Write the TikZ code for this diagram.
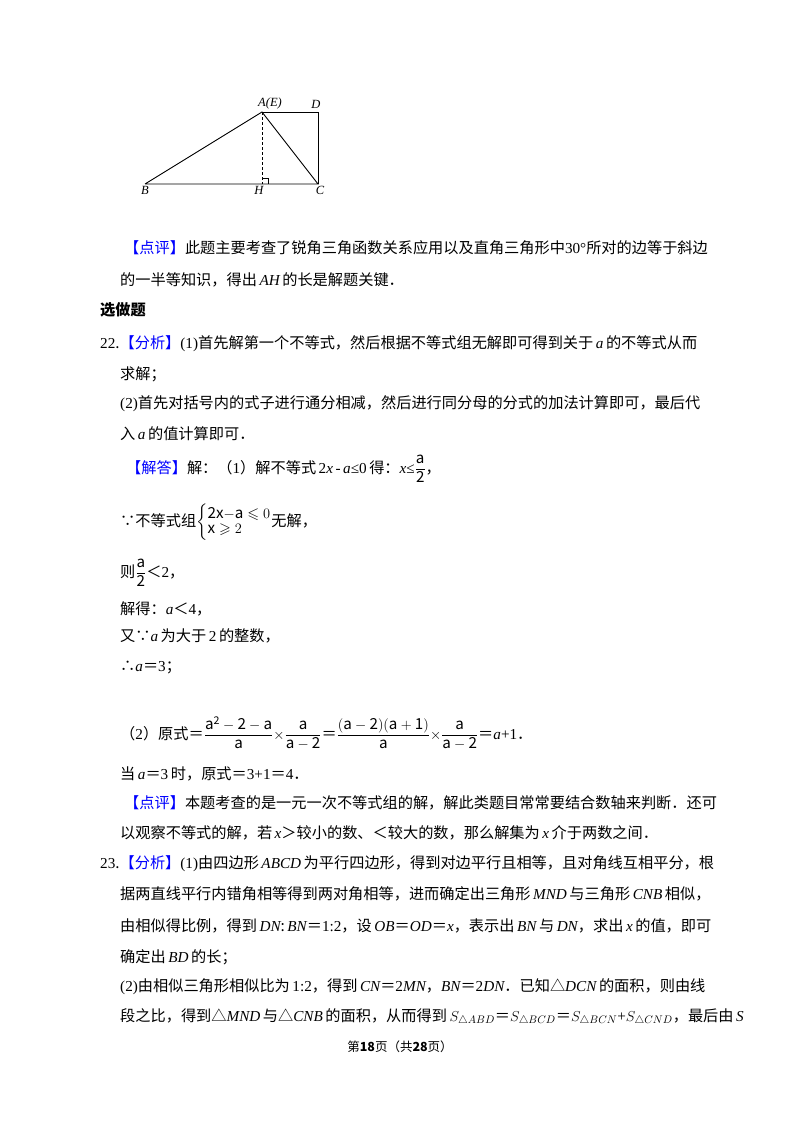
\documentclass[tikz,border=0pt]{standalone}
\usepackage{amssymb}
\usepackage{fontspec}
\usetikzlibrary{calc}
\setmainfont{Noto Sans CJK SC}
\newfontfamily\tm{Liberation Serif}
\newcommand{\I}[1]{{\tm\itshape #1}}
\newcommand{\R}[1]{{\tm #1}}
\newcommand{\B}[1]{\textcolor{blue}{#1}}
\newcommand{\fr}[2]{$\displaystyle\frac{\mathrm{#1}}{\mathrm{#2}}$}
\begin{document}
\begin{tikzpicture}[x=1pt,y=-1pt,
  ln/.style={anchor=base west,inner sep=0pt,font=\fontsize{15.2}{15.2}\selectfont},
  lb/.style={font=\tm\itshape\fontsize{12.5}{12.5}\selectfont,inner sep=1pt},
  seg/.style={line width=0.9pt}]
\useasboundingbox (0,0) rectangle (800,1132);
\fill[white] (0,0) rectangle (800,1132);
% figure
\coordinate (B) at (145,184);
\coordinate (H) at (262,184);
\coordinate (C) at (318,184);
\coordinate (A) at (262,112);
\coordinate (D) at (318,112);
\draw[seg] (B) -- (A) -- (C) -- (B);
\draw[seg] (A) -- (D) -- (C);
\draw[densely dashed,line width=0.7pt] (A) -- (H);
\draw[line width=0.5pt] ($(H)+(0,-6)$) -- ++(6,0) -- ++(0,6);
\node[lb,anchor=south] (lA) at (270,110) {A(E)};
\node[lb,anchor=south] (lD) at (316,110) {D};
\node[lb,anchor=north] (lB) at (145,185) {B};
\node[lb,anchor=north] (lH) at (259,185) {H};
\node[lb,anchor=north] (lC) at (320,185) {C};
% text
\node[ln] (t1) at (124,253) {\B{【点评】}此题主要考查了锐角三角函数关系应用以及直角三角形中\R{30°}所对的边等于斜边};
\node[ln] (t2) at (120,285) {的一半等知识，得出\,\I{AH}\,的长是解题关键．};
\node[ln,font=\bfseries\fontsize{15.2}{15.2}\selectfont] (t3) at (100,315) {选做题};
\node[ln] (t4) at (100,348) {\R{22}.\B{【分析】}\R{(1)}首先解第一个不等式，然后根据不等式组无解即可得到关于\,\I{a}\,的不等式从而};
\node[ln] (t5) at (120,379) {求解；};
\node[ln] (t6) at (120,408) {\R{(2)}首先对括号内的式子进行通分相减，然后进行同分母的分式的加法计算即可，最后代};
\node[ln] (t7) at (120,439) {入\,\I{a}\,的值计算即可．};
\node[ln] (t9) at (126,473) {\B{【解答】}解：（\R{1}）解不等式\,\R{2\I{x}\,-\,\I{a}≤0}\,得：\I{x}\R{≤}\fr{a}{2}，};
\node[ln] (t10) at (120,526) {∵不等式组$\left\{\begin{array}{@{}l@{}}\mathrm{2x{-}a}\leqslant 0\\ \mathrm{x}\geqslant 2\end{array}\right.$无解，};
\node[ln] (t11) at (120,577) {则\fr{a}{2}＜\R{2}，};
\node[ln] (t12) at (120,614) {解得：\I{a}＜\R{4}，};
\node[ln] (t13) at (120,641) {又∵\I{a}\,为大于\,\R{2}\,的整数，};
\node[ln] (t14) at (120,671) {∴\I{a}＝\R{3}；};
\node[ln] (t15) at (120,739) {（\R{2}）原式＝\fr{a^2-2-a}{a}$\times$\fr{a}{a-2}＝\fr{(a-2)(a+1)}{a}$\times$\fr{a}{a-2}＝\I{a}\R{+1}．};
\node[ln] (t16) at (120,779) {当\,\I{a}＝\R{3}\,时，原式＝\R{3+1}＝\R{4}．};
\node[ln] (t17) at (124,808) {\B{【点评】}本题考查的是一元一次不等式组的解，解此类题目常常要结合数轴来判断．还可};
\node[ln] (t18) at (120,838) {以观察不等式的解，若\,\I{x}＞较小的数、＜较大的数，那么解集为\,\I{x}\,介于两数之间．};
\node[ln] (t19) at (100,868) {\R{23}.\B{【分析】}\R{(1)}由四边形\,\I{ABCD}\,为平行四边形，得到对边平行且相等，且对角线互相平分，根};
\node[ln] (t20) at (120,899) {据两直线平行内错角相等得到两对角相等，进而确定出三角形\,\I{MND}\,与三角形\,\I{CNB}\,相似，};
\node[ln] (t21) at (120,931) {由相似得比例，得到\,\I{DN}:\,\I{BN}＝\R{1:2}，设\,\I{OB}＝\I{OD}＝\I{x}，表示出\,\I{BN}\,与\,\I{DN}，求出\,\I{x}\,的值，即可};
\node[ln] (t22) at (120,962) {确定出\,\I{BD}\,的长；};
\node[ln] (t23) at (120,991) {\R{(2)}由相似三角形相似比为\,\R{1:2}，得到\,\I{CN}＝\R{2}\I{MN}，\I{BN}＝\R{2}\I{DN}．已知△\I{DCN}\,的面积，则由线};
\node[ln] (t24) at (120,1021) {段之比，得到△\I{MND}\,与△\I{CNB}\,的面积，从而得到\,$S_{\triangle ABD}$＝$S_{\triangle BCD}$＝$S_{\triangle BCN}$\R{+}$S_{\triangle CND}$，最后由\,\I{S}};
\node[anchor=base,inner sep=0pt,font=\fontsize{12.5}{12.5}\selectfont] (pg) at (400,1051) {第\textbf{18}页（共\textbf{28}页）};
\end{tikzpicture}
\end{document}
